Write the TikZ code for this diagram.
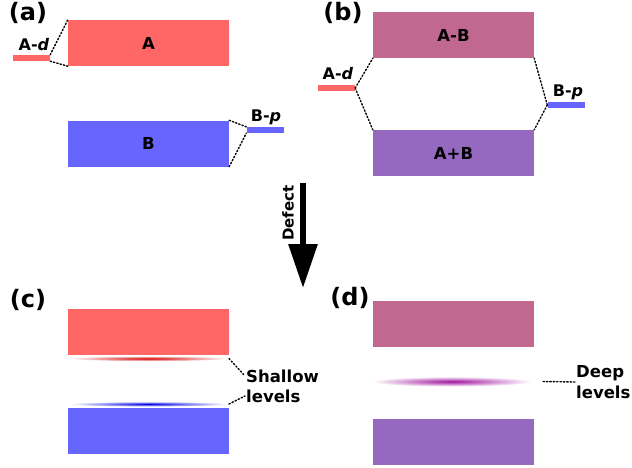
\documentclass[tikz,border=0pt]{standalone}
\usepackage{fontspec}
\setmainfont{DejaVu Sans}
\usetikzlibrary{arrows.meta}
\definecolor{cA}{RGB}{255,102,102}
\definecolor{cB}{RGB}{102,102,255}
\definecolor{cAB}{RGB}{192,104,144}
\definecolor{cApB}{RGB}{150,105,192}
\definecolor{cdeep}{RGB}{160,20,160}
\tikzset{
  band/.style={draw=none, minimum width=161pt, minimum height=46pt, inner sep=0pt, font=\fontsize{16.5}{18}\selectfont\bfseries},
  lvl/.style={draw=none, minimum width=37pt, minimum height=6pt, inner sep=0pt},
  lab/.style={font=\fontsize{16}{18}\selectfont\bfseries, inner sep=0pt},
  panel/.style={font=\fontsize{24}{26}\selectfont\bfseries, inner sep=0pt},
  side/.style={font=\fontsize{16.5}{21}\selectfont\bfseries, inner sep=1pt, anchor=west, align=left},
  conn/.style={dotted, line width=1.4pt, line cap=round},
}
\begin{document}
\begin{tikzpicture}[x=1pt, y=-1pt]
\useasboundingbox (0,0) rectangle (632,467);
% ---------- (a)
\node[panel] (pa) at (28,13) {(a)};
\node[band, fill=cA] (A) at (148.5,43) {A};
\node[band, fill=cB] (B) at (148.5,143.5) {B};
\node[lvl, fill=cA] (ad) at (31.5,58) {};
\node[lvl, fill=cB] (bp) at (265,130) {};
\node[lab] (adl) at (34,45) {A-\textit{d}};
\node[lab] (bpl) at (266,117) {B-\textit{p}};
\draw[conn] (ad.north east) -- (A.north west);
\draw[conn] (ad.south east) -- (A.south west);
\draw[conn] (B.north east) -- (bp.north west);
\draw[conn] (B.south east) -- (bp.south west);
% ---------- (b)
\node[panel] (pb) at (343,13) {(b)};
\node[band, fill=cAB] (AB) at (453.5,35) {A-B};
\node[band, fill=cApB] (ApB) at (453.5,153) {A+B};
\node[lvl, fill=cA] (ad2) at (336.5,88) {};
\node[lvl, fill=cB] (bp2) at (566,105) {};
\node[lab] (ad2l) at (338,74) {A-\textit{d}};
\node[lab] (bp2l) at (568,92) {B-\textit{p}};
\draw[conn] (ad2.east) -- (AB.south west);
\draw[conn] (ad2.east) -- (ApB.north west);
\draw[conn] (bp2.west) -- (AB.south east);
\draw[conn] (bp2.west) -- (ApB.north east);
% ---------- arrow
\coordinate (at) at (303,183);
\coordinate (ab) at (303,288);
\draw[line width=6pt, -{Triangle[width=28pt,length=44pt]}] (at) -- (ab);
\node[lab, rotate=90, font=\fontsize{15}{17}\selectfont\bfseries] (def) at (288,213) {Defect};
% ---------- (c)
\node[panel] (pc) at (28,300) {(c)};
\node[band, fill=cA] (A3) at (148.5,332) {};
\node[band, fill=cB] (B3) at (148.5,430.5) {};
\shade[inner color=red!85!black, outer color=white] (149,358.5) ellipse (80 and 2.6);
\shade[inner color=blue!90!black, outer color=white] (149,404) ellipse (80 and 2.6);
\coordinate (rl) at (229,358.5);
\coordinate (bl) at (229,404);
\node[side] (sh1) at (245,376) {Shallow};
\node[side] (sh2) at (245,396) {levels};
\draw[conn] (rl) -- (sh1.west);
\draw[conn] (bl) -- (sh2.west);
% ---------- (d)
\node[panel] (pd) at (350,298) {(d)};
\node[band, fill=cAB] (AB4) at (453.5,324) {};
\node[band, fill=cApB] (ApB4) at (453.5,441.5) {};
\shade[inner color=cdeep, outer color=white] (452,381.5) ellipse (80 and 5);
\coordinate (dl) at (543,381.5);
\node[side] (deep) at (575,382) {Deep\\levels};
\draw[conn] (dl) -- (deep.west);
\end{tikzpicture}
\end{document}
